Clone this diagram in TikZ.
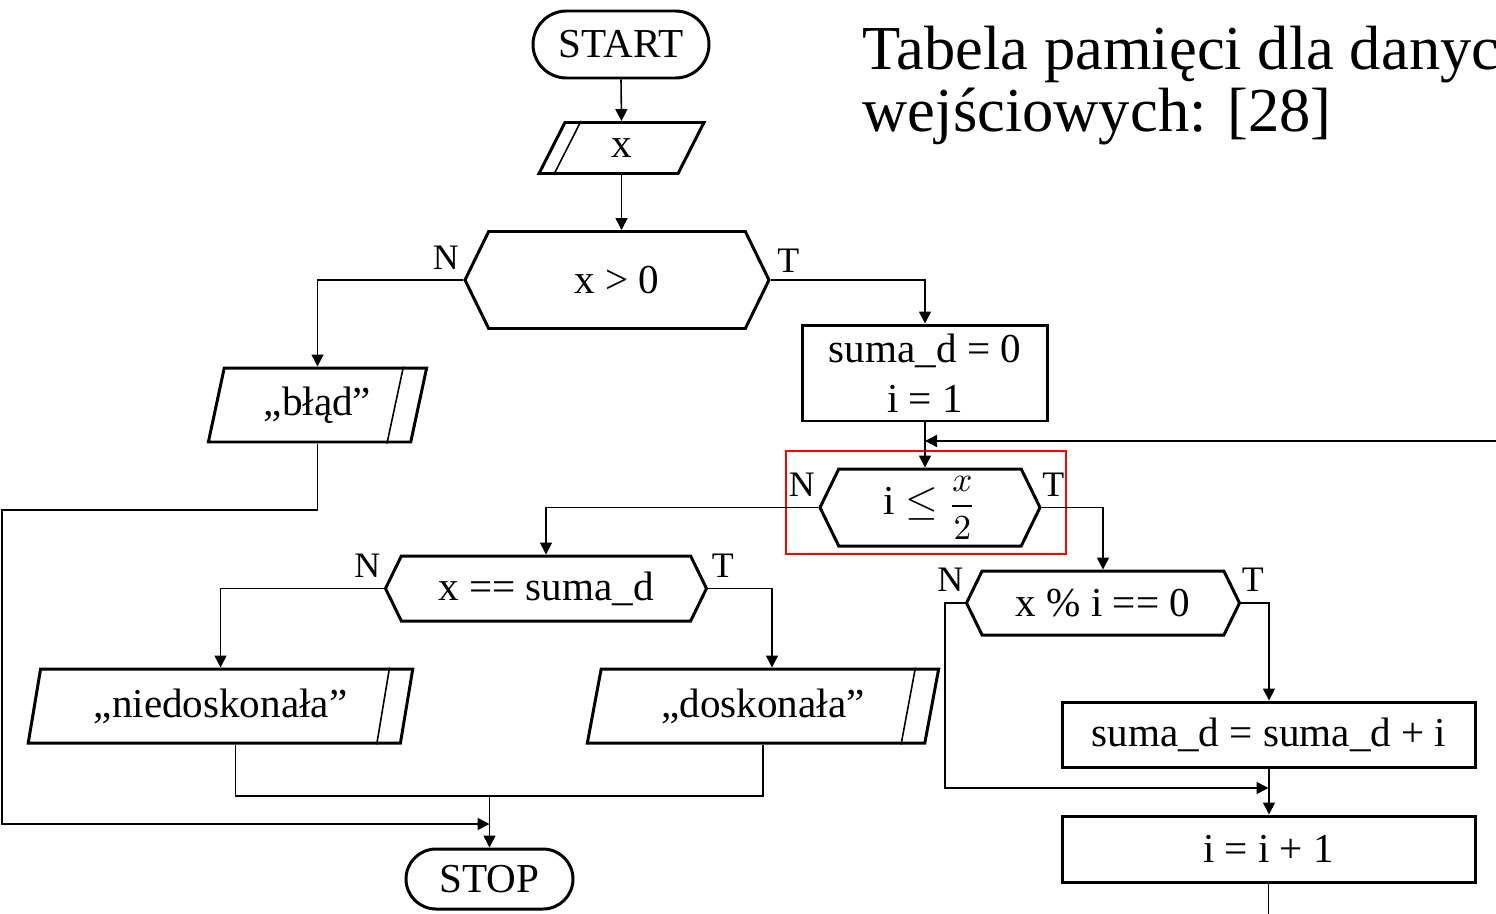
\documentclass[tikz,border=0pt]{standalone}
\usepackage{amsmath}
\usepackage{fontspec}
\setmainfont{Liberation Serif}
\usepackage{tikz}
\usetikzlibrary{arrows.meta,positioning,calc,shapes.geometric,shapes.misc,shapes.symbols}

\tikzset{
  box/.style={draw, line width=0.85pt, inner sep=0pt, font=\fontsize{11.7}{14.2}\selectfont},
  term/.style={box, rounded rectangle},
  proc/.style={box, rectangle},
  dec/.style={box, signal, signal to=west and east, signal pointer angle=128},
  io/.style={box, trapezium, trapezium left angle=76, trapezium right angle=104, trapezium stretches=true},
  lab/.style={inner sep=0pt, font=\fontsize{10.2}{12}\selectfont},
  conn/.style={line width=0.45pt},
  arr/.style={conn, -{Triangle[length=1.2mm,width=1.2mm]}},
  hilite/.style={draw=red, line width=0.7pt, inner sep=0pt}
}

\begin{document}
\begin{tikzpicture}[x=0.1mm, y=-0.1mm]
  \useasboundingbox (0,0) rectangle (1496,914);
  \clip (0,0) rectangle (1496,914);

  % title
  \node[inner sep=0pt, anchor=north west, align=left,
    font=\fontsize{17.8}{17.8}\selectfont] (title) at (862,25)
    {Tabela pamięci dla danych\\wejściowych: [28]};

  % blocks
  \node[term, minimum width=17.6mm, minimum height=6.7mm] (start) at (621,44.5) {START};
  \node[io, minimum width=16.5mm, minimum height=5.1mm] (xin) at (621.5,148) {x};
  \node[dec, minimum width=30.4mm, minimum height=9.7mm] (d1) at (617,280) {x > 0};
  \node[proc, minimum width=24.5mm, minimum height=9.6mm, align=center] (init) at (925,373)
    {suma\_d = 0\\i = 1};
  \node[io, minimum width=21.9mm, minimum height=7.4mm] (blad) at (317.5,405) {„błąd”};
  \node[dec, minimum width=22mm, minimum height=7.7mm] (d2) at (930,507.5)
    {i $\leq$ {\fontsize{10}{10}\selectfont$\dfrac{x}{2}$}};
  \node[hilite, minimum width=28mm, minimum height=10.3mm] (mark) at (926,502.5) {};
  \node[dec, minimum width=32.1mm, minimum height=6.5mm] (d3) at (546,588.5) {x == suma\_d};
  \node[dec, minimum width=27.3mm, minimum height=6.4mm] (d4) at (1103,603) {x \% i == 0};
  \node[io, minimum width=38.7mm, minimum height=7.4mm] (nied) at (220.5,706) {„niedoskonała”};
  \node[io, minimum width=35.2mm, minimum height=7.4mm] (dosk) at (763,706) {„doskonała”};
  \node[proc, minimum width=41.3mm, minimum height=6.5mm] (add) at (1269,734.5) {suma\_d = suma\_d + i};
  \node[proc, minimum width=41.3mm, minimum height=6.6mm] (inc) at (1268.5,849) {i = i + 1};
  \node[term, minimum width=16.7mm, minimum height=6.0mm] (stop) at (489.5,879) {STOP};

  % double edges of the input / output blocks
  \draw[line width=0.45pt] ($(xin.top left corner)+(17,0)$) -- ($(xin.bottom left corner)+(17,0)$);
  \foreach \n in {blad,nied,dosk}
    \draw[line width=0.45pt] ($(\n.top right corner)+(-25,0)$) -- ($(\n.bottom right corner)+(-25,0)$);

  % branch labels
  \node[lab, anchor=south east] (n1) at ([xshift=-0.4mm,yshift=1mm]d1.west) {N};
  \node[lab, anchor=south west] (t1) at ([xshift=0.6mm,yshift=0.7mm]d1.east) {T};
  \node[lab, anchor=south east] (n2) at ([xshift=-0.3mm,yshift=1mm]d2.west) {N};
  \node[lab, anchor=south west] (t2) at ([yshift=1mm]d2.east) {T};
  \node[lab, anchor=south east] (n3) at ([xshift=-0.3mm,yshift=1mm]d3.west) {N};
  \node[lab, anchor=south west] (t3) at ([xshift=0.3mm,yshift=1mm]d3.east) {T};
  \node[lab, anchor=south east] (n4) at ([xshift=-0.1mm,yshift=1.1mm]d4.west) {N};
  \node[lab, anchor=south west] (t4) at ([yshift=1.1mm]d4.east) {T};

  % connectors
  \coordinate (back) at (1520,441);
  \coordinate (rail) at (2,510);
  \coordinate (low) at (0,824);
  \coordinate (join) at (489.5,796);
  \coordinate (merge) at (1268.5,788);
  \draw[arr] (start.south) -- (xin.north);
  \draw[arr] (xin.south) -- (xin.south |- d1.north);
  \draw[arr] (d1.west) -| (blad.north);
  \draw[arr] (d1.east) -| (init.north);
  \draw[arr] (init.south) -- (init.south |- d2.north);
  \draw[arr] (back) -- (back -| init.south);
  \draw[arr] (d2.west) -| (d3.north);
  \draw[arr] (d2.east) -| (d4.north);
  \draw[arr] (blad.south) |- (rail) |- (stop.north |- low);
  \draw[arr] (d3.west) -| (nied.north);
  \draw[arr] (d3.east) -| ([xshift=0.9mm]dosk.north);
  \draw[conn] ([xshift=1.5mm]nied.south) |- (join) -| (dosk.south);
  \draw[arr] (join) -- (stop.north);
  \draw[arr] (d4.east) -| (add.north);
  \draw[arr] (add.south) -- (add.south |- inc.north);
  \draw[arr] (d4.west) -- ++(-20,0) |- (merge);
  \draw[conn] (inc.south) -- ++(0,60);
\end{tikzpicture}
\end{document}
